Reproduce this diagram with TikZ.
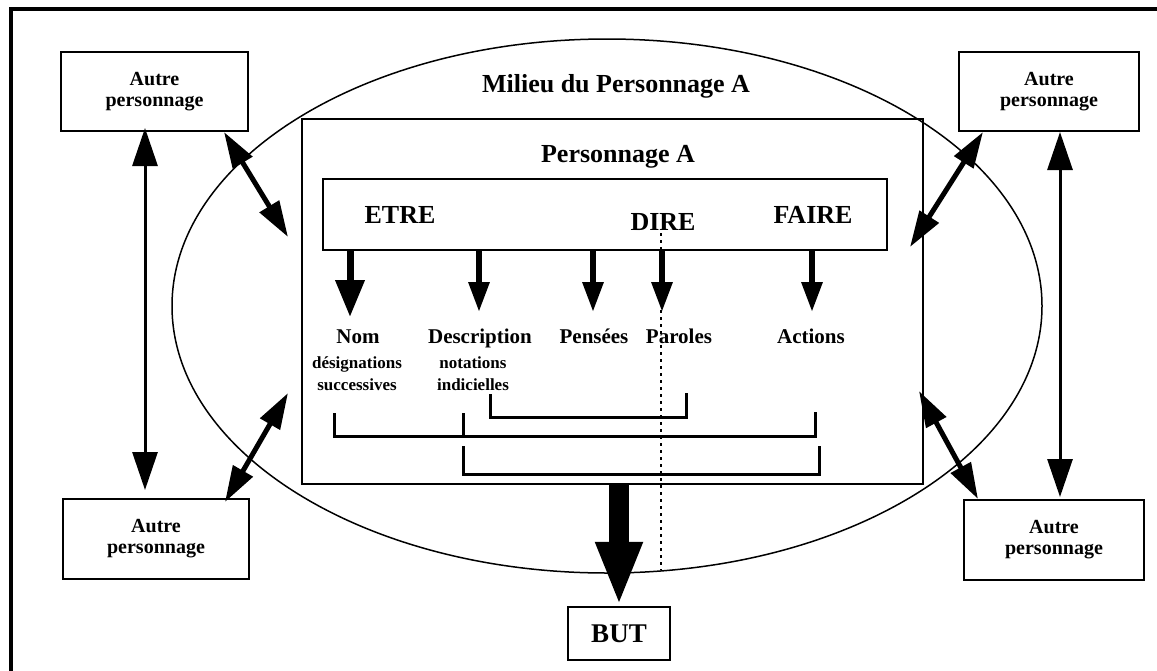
\documentclass[tikz,border=0pt]{standalone}
\usepackage{fontspec}
\setmainfont{Liberation Serif}
\usetikzlibrary{calc, arrows.meta, shapes.geometric}

\begin{document}
\begin{tikzpicture}[x=0.5pt, y=-0.5pt,
        autre/.style={draw, line width=1pt, minimum height=39.5pt, align=center,
            font=\fontsize{10}{10.5}\selectfont\bfseries},
        titre/.style={font=\fontsize{13}{15}\selectfont\bfseries},
        rubrique/.style={font=\fontsize{10.5}{12}\selectfont\bfseries},
        petit/.style={align=center, font=\fontsize{8.5}{11}\selectfont\bfseries},
        lien/.style={line width=2.5pt, {Triangle[length=18pt, width=11pt]}-{Triangle[length=18pt, width=11pt]}},
        lienv/.style={line width=1.5pt, {Triangle[length=19pt, width=12.5pt]}-{Triangle[length=19pt, width=12.5pt]}},
        fleche/.style={line width=3pt, -{Triangle[length=15pt, width=10pt]}},
        crochet/.style={line width=1.5pt}]
        \useasboundingbox (0,0) rectangle (1157,670);
        \draw[line width=2pt] (11,690) -- (11,9) -- (1180,9);

        \node[ellipse, draw, line width=0.75pt, minimum width=435pt, minimum height=267pt, inner sep=0pt] (milieu) at (607,306) {};
        \node[draw, line width=0.75pt, minimum width=310.5pt, minimum height=182.5pt] (persoA) at (612.5,301.5) {};
        \node[draw, line width=1pt, minimum width=282pt, minimum height=35.5pt] (etre) at (605,214.5) {};

        \node[autre, minimum width=93.5pt] (tl) at (154.5,91.5) {Autre\\personnage};
        \node[autre, minimum width=90pt] (tr) at (1049,91.5) {Autre\\personnage};
        \node[autre, minimum width=93pt, minimum height=40pt] (bl) at (156,539) {Autre\\personnage};
        \node[autre, minimum width=90pt, minimum height=40pt] (br) at (1054,540) {Autre\\personnage};
        \node[draw, line width=1.2pt, minimum width=51pt, minimum height=26.5pt,
            font=\fontsize{13.5}{15}\selectfont\bfseries] (but) at (619,633.5) {BUT};

        \node[titre, anchor=base] (tmilieu) at (616,92) {Milieu du Personnage A};
        \node[titre, anchor=base] (tperso) at (618,162) {Personnage A};
        \node[titre, anchor=base] (tetre) at (400,223) {ETRE};
        \node[titre, anchor=base] (tdire) at (663,230) {DIRE};
        \node[titre, anchor=base] (tfaire) at (813,223) {FAIRE};

        \node[rubrique, anchor=base] (nom) at (358,343) {Nom};
        \node[rubrique, anchor=base] (desc) at (480,343) {Description};
        \node[rubrique, anchor=base] (pens) at (594,343) {Pensées};
        \node[rubrique, anchor=base] (parl) at (679,343) {Paroles};
        \node[rubrique, anchor=base] (act) at (811,343) {Actions};
        \node[petit] (desig) at (357,374) {désignations\\successives};
        \node[petit] (notat) at (473,374) {notations\\indicielles};

        \coordinate (pNom) at (350,317);
        \draw[line width=3.5pt, -{Triangle[length=18.5pt, width=14pt]}] (etre.south -| pNom) -- (pNom);
        \foreach \nm/\px in {pDesc/479, pPens/593, pParl/662, pAct/812}{
            \coordinate (\nm) at (\px,312);
            \draw[fleche] (etre.south -| \nm) -- (\nm);
        }

        \draw[dash pattern=on 1.5pt off 2pt, line width=0.7pt] (661,233) -- (661,570);

        \draw[crochet] (490,394) -- (490,417) -- (686,417) -- (686,393);
        \draw[crochet] (334,413) -- (334,436) -- (815,436) -- (815,412);
        \draw[crochet] (463,413) -- (463,436);
        \draw[crochet] (463,446) -- (463,474) -- (819,474) -- (819,446);

        \draw[line width=10pt, -{Triangle[length=32pt, width=21.5pt]}] (persoA.south -| but.north) -- (but.north);

        \coordinate (ptl) at (288,237);
        \coordinate (ptr) at (910,247);
        \coordinate (pbl) at (288,393);
        \coordinate (pbr) at (919,391);
        \draw[lien] ($(tl.south east)+(-25,0)$) -- (ptl);
        \draw[lien] ($(tr.south west)+(25,0)$) -- (ptr);
        \draw[lien] ($(bl.north east)+(-25,4)$) -- (pbl);
        \draw[lien] ($(br.north west)+(15,0)$) -- (pbr);

        \draw[lienv] ($(tl.south)+(-9.5,-4)$) -- ($(bl.north)+(-11,-8)$);
        \draw[lienv] ($(tr.south)+(11,0)$) -- ($(br.north)+(6,-2)$);
    \end{tikzpicture}
\end{document}
